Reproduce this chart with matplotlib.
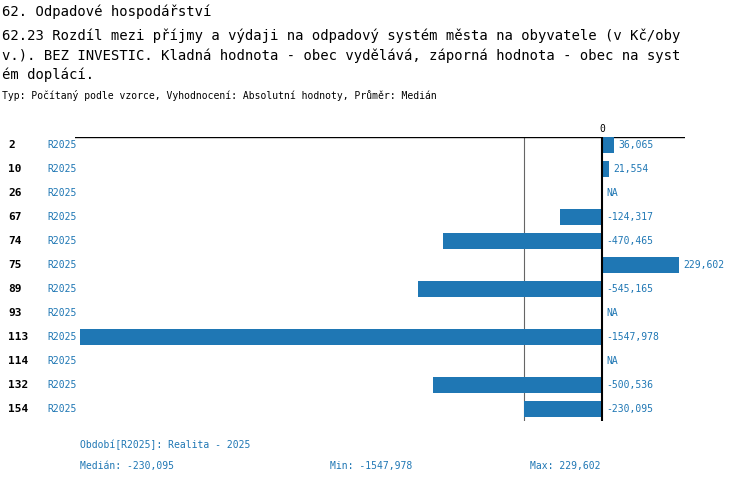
import matplotlib
matplotlib.use("Agg")
import matplotlib.pyplot as plt
import numpy as np

ids = ["2", "10", "26", "67", "74", "75", "89", "93", "113", "114", "132", "154"]
values = [36.065, 21.554, None, -124.317, -470.465, 229.602, -545.165, None,
          -1547.978, None, -500.536, -230.095]
labels = ["36,065", "21,554", "NA", "-124,317", "-470,465", "229,602", "-545,165", "NA",
          "-1547,978", "NA", "-500,536", "-230,095"]
median = -230.095

W, H = 750, 484
blue = "#1f77b4"
mono = "DejaVu Sans Mono"

fig = plt.figure(figsize=(W / 100, H / 100), dpi=100)

def fx(px):
    return px / W

def fy(py):
    return 1 - py / H

fig.text(fx(2), fy(12), "62. Odpadové hospodářství", family=mono, fontsize=10, va="center")
fig.text(fx(2), fy(36), "62.23 Rozdíl mezi příjmy a výdaji na odpadový systém města na obyvatele (v Kč/oby",
         family=mono, fontsize=10, va="center")
fig.text(fx(2), fy(56), "v.). BEZ INVESTIC. Kladná hodnota - obec vydělává, záporná hodnota - obec na syst",
         family=mono, fontsize=10, va="center")
fig.text(fx(2), fy(75), "ém doplácí.", family=mono, fontsize=10, va="center")
fig.text(fx(2), fy(95), "Typ: Počítaný podle vzorce, Vyhodnocení: Absolutní hodnoty, Průměr: Medián",
         family=mono, fontsize=7, va="center")

# axes spans px 75..685 horizontally, 137..421 vertically
ax = fig.add_axes([fx(75), fy(421), fx(685) - fx(75), fy(137) - fy(421)])
scale = 522 / 1547.978
ax.set_xlim((75 - 602) / scale, (685 - 602) / scale)
ax.set_ylim(11.5, -1 / 3)
for s in ax.spines.values():
    s.set_visible(False)
ax.set_xticks([])
ax.set_yticks([])
ax.axhline(-1 / 3, color="black", lw=1)

y = np.arange(len(ids))
vals = [v if v is not None else 0 for v in values]
ax.barh(y, vals, height=0.66, color=blue, zorder=2)
ax.axvline(0, color="black", lw=1.5, zorder=3)
ax.axvline(median, color="#666666", lw=0.8, zorder=1)
ax.text(0, -0.45, "0", ha="center", va="bottom", family=mono, fontsize=7)

for i, (v, lab) in enumerate(zip(values, labels)):
    xpos = max(v or 0, 0) + 4 / scale
    ax.text(xpos, i, lab, color=blue, family=mono, fontsize=7, va="center", ha="left")
    fig.text(fx(8), fy(145 + 24 * i), ids[i], family=mono, fontsize=8, weight="bold", va="center")
    fig.text(fx(47), fy(145 + 24 * i), "R2025", color=blue, family=mono, fontsize=7, va="center")

fig.text(fx(80), fy(445), "Období[R2025]: Realita - 2025", color=blue, family=mono, fontsize=7, va="center")
fig.text(fx(80), fy(466), "Medián: -230,095", color=blue, family=mono, fontsize=7, va="center")
fig.text(fx(330), fy(466), "Min: -1547,978", color=blue, family=mono, fontsize=7, va="center")
fig.text(fx(530), fy(466), "Max: 229,602", color=blue, family=mono, fontsize=7, va="center")

fig.savefig("out.png", dpi=100, facecolor="white")
